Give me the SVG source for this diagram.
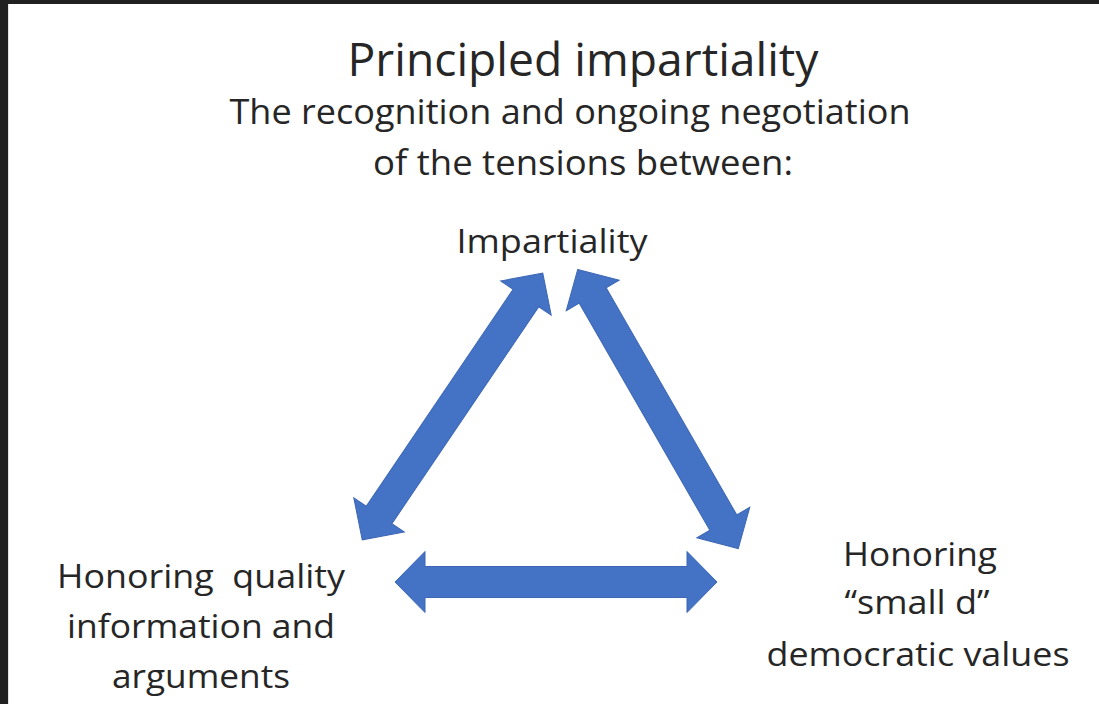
<svg xmlns="http://www.w3.org/2000/svg" width="1099" height="704" viewBox="0 0 1099 704">
  <defs>
    <style>
      .t { font-family: "Open Sans", "Liberation Sans", sans-serif; fill: #262626; text-anchor: middle; }
      .title { font-size: 46px; }
      .sub { font-size: 34px; }
      .lbl { font-size: 32px; }
      .pre { white-space: pre; }
      .arrow { fill: #4472C4; stroke: #3D67B5; stroke-width: 1; }
    </style>
    <path id="dbl" d="M-161,0 L-131,-30.5 L-131,-15.5 L131,-15.5 L131,-30.5 L161,0 L131,30.5 L131,15.5 L-131,15.5 L-131,30.5 Z"/>
  </defs>
  <rect x="0" y="0" width="1099" height="704" fill="#202020"/>
  <rect x="8" y="4" width="1091" height="700" fill="#ffffff"/>
  <line x1="8.5" y1="4" x2="8.5" y2="704" stroke="#e4e4e4" stroke-width="1"/>

  <g id="header">
    <text class="t title" x="583" y="76" textLength="471" lengthAdjust="spacingAndGlyphs">Principled impartiality</text>
    <text class="t sub" x="570" y="124" textLength="681" lengthAdjust="spacingAndGlyphs">The recognition and ongoing negotiation</text>
    <text class="t sub" x="583" y="175" textLength="420" lengthAdjust="spacingAndGlyphs">of the tensions between:</text>
  </g>

  <g id="node-impartiality">
    <text class="t lbl" x="552" y="253" textLength="191" lengthAdjust="spacingAndGlyphs">Impartiality</text>
  </g>

  <g id="node-quality">
    <text class="t lbl pre" x="201" y="588" textLength="288" lengthAdjust="spacingAndGlyphs" xml:space="preserve">Honoring  quality</text>
    <text class="t lbl" x="201" y="638" textLength="268" lengthAdjust="spacingAndGlyphs">information and</text>
    <text class="t lbl" x="201" y="688" textLength="178" lengthAdjust="spacingAndGlyphs">arguments</text>
  </g>

  <g id="node-democratic">
    <text class="t lbl" x="920" y="566" textLength="154" lengthAdjust="spacingAndGlyphs">Honoring</text>
    <text class="t lbl" x="917" y="614" textLength="145" lengthAdjust="spacingAndGlyphs">“small d”</text>
    <text class="t lbl" x="918" y="666" textLength="303" lengthAdjust="spacingAndGlyphs">democratic values</text>
  </g>

  <g id="connectors">
    <use href="#dbl" class="arrow" transform="translate(452.5,406.5) rotate(-55.9)"/>
    <use href="#dbl" class="arrow" transform="translate(658,409) rotate(60.1)"/>
    <use href="#dbl" class="arrow" transform="translate(556,582)"/>
  </g>
</svg>
